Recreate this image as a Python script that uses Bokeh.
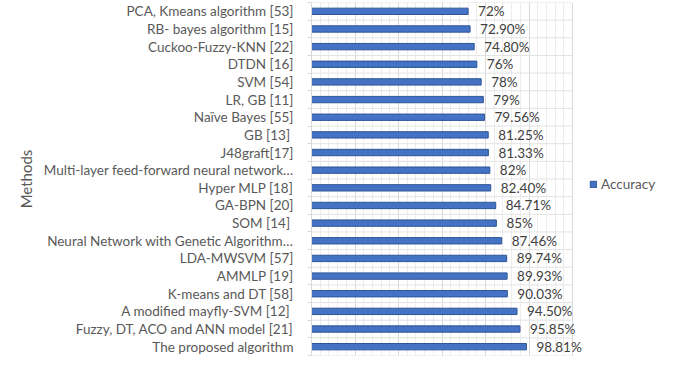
from bokeh.plotting import figure
from bokeh.models import (ColumnDataSource, FixedTicker, SingleIntervalTicker, Range1d,
                          Legend, LegendItem)
from bokeh.core.properties import value
from bokeh.embed import file_html
from bokeh.resources import INLINE

methods = [
    "PCA, Kmeans algorithm [53]",
    "RB- bayes algorithm [15]",
    "Cuckoo-Fuzzy-KNN [22]",
    "DTDN [16]",
    "SVM [54]",
    "LR, GB [11]",
    "Naïve Bayes [55]",
    "GB [13] ",
    "J48graft[17]",
    "Multi-layer feed-forward neural network…",
    "Hyper MLP [18]",
    "GA-BPN [20]",
    "SOM [14] ",
    "Neural Network with Genetic Algorithm…",
    "LDA-MWSVM [57]",
    "AMMLP [19]",
    "K-means and DT [58]",
    "A modified mayfly-SVM [12] ",
    "Fuzzy, DT, ACO and ANN model [21]",
    "The proposed algorithm",
]
accuracy = [72, 72.9, 74.8, 76, 78, 79, 79.56, 81.25, 81.33, 82,
            82.4, 84.71, 85, 87.46, 89.74, 89.93, 90.03, 94.5, 95.85, 98.81]
labels = ["72%", "72.90%", "74.80%", "76%", "78%", "79%", "79.56%", "81.25%",
          "81.33%", "82%", "82.40%", "84.71%", "85%", "87.46%", "89.74%",
          "89.93%", "90.03%", "94.50%", "95.85%", "98.81%"]
x_axis_max = 120
x_major_step = 20

n = len(methods)
ypos = [n - 1 - i for i in range(n)]  # first method at top
bounds = [i - 0.5 for i in range(n + 1)]

src = ColumnDataSource(dict(y=ypos, acc=accuracy, lab=labels, name=methods))

W, H = 658, 356
LEFT = 311
PLOT_W = 261  # pixels spanned by 0..x_axis_max
frame_w = W - LEFT
x_end = x_axis_max * frame_w / PLOT_W

FONT = "Lato"
p = figure(width=W, height=H, output_backend="svg", toolbar_location=None,
           x_range=Range1d(0, x_end), y_range=Range1d(-0.5, n - 0.5),
           min_border_left=LEFT, min_border_right=0, min_border_top=2,
           min_border_bottom=1)
p.outline_line_color = None
p.background_fill_color = "white"

# vertical grid (bounded to the plot area 0..x_axis_max)
p.xaxis.visible = False
p.xgrid.ticker = SingleIntervalTicker(interval=x_major_step, num_minor_ticks=5)
p.xgrid.bounds = (0, x_axis_max)
p.xgrid.grid_line_color = "#d9d9d9"
p.xgrid.minor_grid_line_color = "#ededed"
p.ygrid.visible = False
# horizontal grid lines at category boundaries
p.segment(x0=0, x1=x_axis_max, y0=bounds, y1=bounds, line_color="#e3e3e3",
          line_width=1)

# y axis
p.yaxis.ticker = FixedTicker(ticks=ypos, minor_ticks=bounds)
p.yaxis.major_label_overrides = {y: m for y, m in zip(ypos, methods)}
p.yaxis.major_tick_out = 0
p.yaxis.major_tick_in = 0
p.yaxis.minor_tick_out = 4
p.yaxis.minor_tick_in = 0
p.yaxis.minor_tick_line_color = "#d9d9d9"
p.yaxis.axis_line_color = "#d9d9d9"
p.yaxis.major_label_standoff = 14
p.yaxis.major_label_text_font = FONT
p.yaxis.major_label_text_font_size = "13.5px"
p.yaxis.major_label_text_color = "#595959"
p.yaxis.axis_label = "Methods"
p.yaxis.axis_label_text_font = FONT
p.yaxis.axis_label_text_font_style = "normal"
p.yaxis.axis_label_text_font_size = "15px"
p.yaxis.axis_label_text_color = "#595959"
p.yaxis.axis_label_standoff = 6

bars = p.hbar(y="y", right="acc", left=0, height=0.36, source=src,
              fill_color="#4472c4", line_color="#2f5597", line_width=1)

p.text(x="acc", y="y", text="lab", source=src, x_offset=10,
       text_baseline="middle", text_align="left",
       text_font=value(FONT), text_font_size="13.5px", text_color="#404040")

legend = Legend(items=[LegendItem(label="Accuracy", renderers=[bars])],
                location=(278, 163), border_line_color=None,
                background_fill_alpha=0, glyph_width=8, glyph_height=8,
                label_text_font=FONT, label_text_font_size="13.5px",
                label_text_color="#595959", label_standoff=4, padding=0,
                margin=0)
p.add_layout(legend, "center")

open("out.html", "w").write(file_html(p, INLINE))
